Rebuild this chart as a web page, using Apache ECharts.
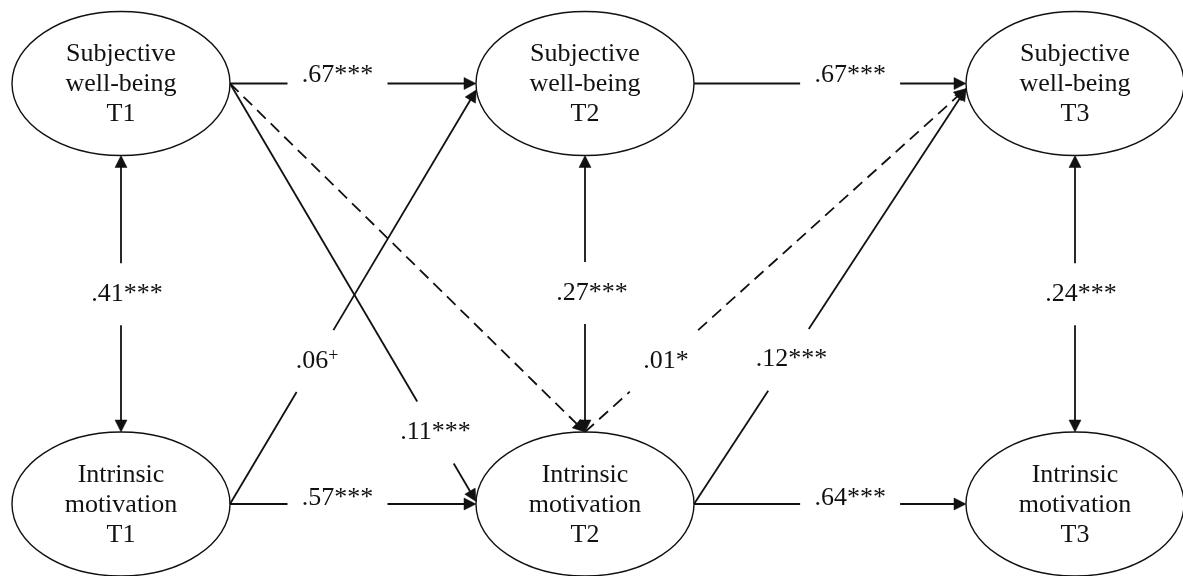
<!DOCTYPE html>
<html>
<head>
<meta charset="utf-8">
<script src="https://cdn.jsdelivr.net/npm/echarts@6/dist/echarts.min.js"></script>
<style>
  html, body { margin: 0; padding: 0; background: #ffffff; }
  #chart { width: 1183px; height: 576px; }
</style>
</head>
<body>
<div id="chart"></div>
<script>
// ---------------- data ----------------
const constructs = ['Subjective\nwell-being', 'Intrinsic\nmotivation'];
const waves = ['T1', 'T2', 'T3'];
const nodeIds = ['SWB1', 'SWB2', 'SWB3', 'IM1', 'IM2', 'IM3'];
const nodeConstruct = [0, 0, 0, 1, 1, 1];
const nodeWave = [0, 1, 2, 0, 1, 2];

const pathFrom   = ['SWB1', 'SWB2', 'IM1', 'IM2', 'SWB1', 'SWB2', 'SWB3', 'IM1',  'SWB1', 'SWB1', 'IM2',  'IM2'];
const pathTo     = ['SWB2', 'SWB3', 'IM2', 'IM3', 'IM1',  'IM2',  'IM3',  'SWB2', 'IM2',  'IM2',  'SWB3', 'SWB3'];
const pathCoef   = ['.67',  '.67',  '.57', '.64', '.41',  '.27',  '.24',  '.06',  '.11',  '',     '.01',  '.12'];
const pathSig    = ['***',  '***',  '***', '***', '***',  '***',  '***',  '+',    '***',  '',     '*',    '***'];
const pathTwoWay = [false,  false,  false, false, true,   true,   true,   false,  false,  false,  false,  false];
const pathDashed = [false,  false,  false, false, false,  false,  false,  false,  false,  true,   true,   false];

// ---------------- layout / style (not data) ----------------
const INK = '#111111';
const FONT = '"Liberation Serif", "Times New Roman", serif';
const LAYOUT = {
  center: { SWB1: [121, 83.5], SWB2: [585, 83.5], SWB3: [1075, 83.5],
            IM1: [121, 504], IM2: [585, 504], IM3: [1075, 504] },
  rx: 109, ry: 72,
  // [fromAngle, toAngle, labelT, gapHalf, labelDx, labelDy]
  paths: [
    [0, 180, 0.437, 50, 0, -8],
    [0, 180, 0.574, 50, 0, -8],
    [0, 180, 0.437, 50, 0, -6],
    [0, 180, 0.574, 50, 0, -6],
    [270, 90, 0.502, 31, 6, 0],
    [270, 90, 0.497, 31, 7, 0],
    [270, 90, 0.502, 31, 6, 0],
    [0, 185, 0.345, 36, 2, 0],
    [0, 178, 0.835, 36, 0, 0],
    [0, 90, null, 0, 0, 0],
    [90, 184, 0.207, 46, 2, 0],
    [0, 184, 0.347, 37, 3, -1]
  ]
};

function anchor(id, ang) {
  const c = LAYOUT.center[id];
  const a = ang * Math.PI / 180;
  return [c[0] + LAYOUT.rx * Math.cos(a), c[1] - LAYOUT.ry * Math.sin(a)];
}

function renderEdge(params, api) {
  const i = params.dataIndex;
  const g = LAYOUT.paths[i];
  const p0 = api.coord(anchor(pathFrom[i], g[0]));
  const p1 = api.coord(anchor(pathTo[i], g[1]));
  const dx = p1[0] - p0[0], dy = p1[1] - p0[1];
  const len = Math.hypot(dx, dy);
  const ux = dx / len, uy = dy / len;
  const AL = 12, AW = 6;
  const children = [];
  const lineStyle = { stroke: INK, lineWidth: 1.8, fill: null };
  if (pathDashed[i]) lineStyle.lineDash = [12, 7];
  const s0 = pathTwoWay[i] ? AL * 0.8 : 0;
  const s1 = AL * 0.8;
  let segs;
  let m = 0;
  if (g[2] != null) {
    m = g[2] * len;
    segs = [[s0, m - g[3]], [m + g[3], len - s1]];
  } else {
    segs = [[s0, len - s1]];
  }
  segs.forEach(function (s) {
    children.push({
      type: 'line',
      shape: { x1: p0[0] + ux * s[0], y1: p0[1] + uy * s[0], x2: p0[0] + ux * s[1], y2: p0[1] + uy * s[1] },
      style: lineStyle
    });
  });
  function arrow(tip, ax, ay) {
    return {
      type: 'polygon',
      shape: { points: [
        [tip[0], tip[1]],
        [tip[0] - ax * AL - ay * AW, tip[1] - ay * AL + ax * AW],
        [tip[0] - ax * AL + ay * AW, tip[1] - ay * AL - ax * AW]
      ] },
      style: { fill: INK, stroke: INK, lineWidth: 0.5 }
    };
  }
  children.push(arrow(p1, ux, uy));
  if (pathTwoWay[i]) children.push(arrow(p0, -ux, -uy));
  if (pathCoef[i]) {
    const sup = pathSig[i] === '+';
    children.push({
      type: 'text',
      x: p0[0] + ux * m + g[4],
      y: p0[1] + uy * m + g[5],
      style: {
        text: '{v|' + pathCoef[i] + '}{' + (sup ? 's' : 'a') + '|' + pathSig[i] + '}',
        align: 'center',
        verticalAlign: 'middle',
        rich: {
          v: { fontFamily: FONT, fontSize: 26, fill: INK, lineHeight: 28 },
          a: { fontFamily: FONT, fontSize: 26, fill: INK, lineHeight: 28 },
          s: { fontFamily: FONT, fontSize: 18, fill: INK, lineHeight: 18, verticalAlign: 'top' }
        }
      }
    });
  }
  return { type: 'group', children: children };
}

function renderNode(params, api) {
  const i = params.dataIndex;
  const c = LAYOUT.center[nodeIds[i]];
  const p = api.coord(c);
  const sz = api.size([LAYOUT.rx, LAYOUT.ry]);
  return {
    type: 'group',
    children: [
      { type: 'ellipse', shape: { cx: p[0], cy: p[1], rx: sz[0], ry: sz[1] },
        style: { fill: 'rgba(0,0,0,0)', stroke: INK, lineWidth: 1.4 } },
      { type: 'text', x: p[0], y: p[1] + 1,
        style: { text: constructs[nodeConstruct[i]] + '\n' + waves[nodeWave[i]],
                 fontFamily: FONT, fontSize: 26, lineHeight: 30, fill: INK,
                 align: 'center', verticalAlign: 'middle' } }
    ]
  };
}

const chart = echarts.init(document.getElementById('chart'), null, { renderer: 'canvas' });
chart.setOption({
  backgroundColor: '#ffffff',
  animation: false,
  grid: { left: 0, right: 0, top: 0, bottom: 0 },
  xAxis: { type: 'value', min: 0, max: 1183, show: false },
  yAxis: { type: 'value', min: 0, max: 576, inverse: true, show: false },
  series: [
    {
      type: 'custom', name: 'paths', coordinateSystem: 'cartesian2d', clip: false,
      data: pathFrom.map(function (_, i) { return [i, 0]; }),
      renderItem: renderEdge, silent: true
    },
    {
      type: 'custom', name: 'constructs', coordinateSystem: 'cartesian2d', clip: false,
      data: nodeIds.map(function (_, i) { return [i, 0]; }),
      renderItem: renderNode, silent: true
    }
  ]
});
</script>
</body>
</html>
